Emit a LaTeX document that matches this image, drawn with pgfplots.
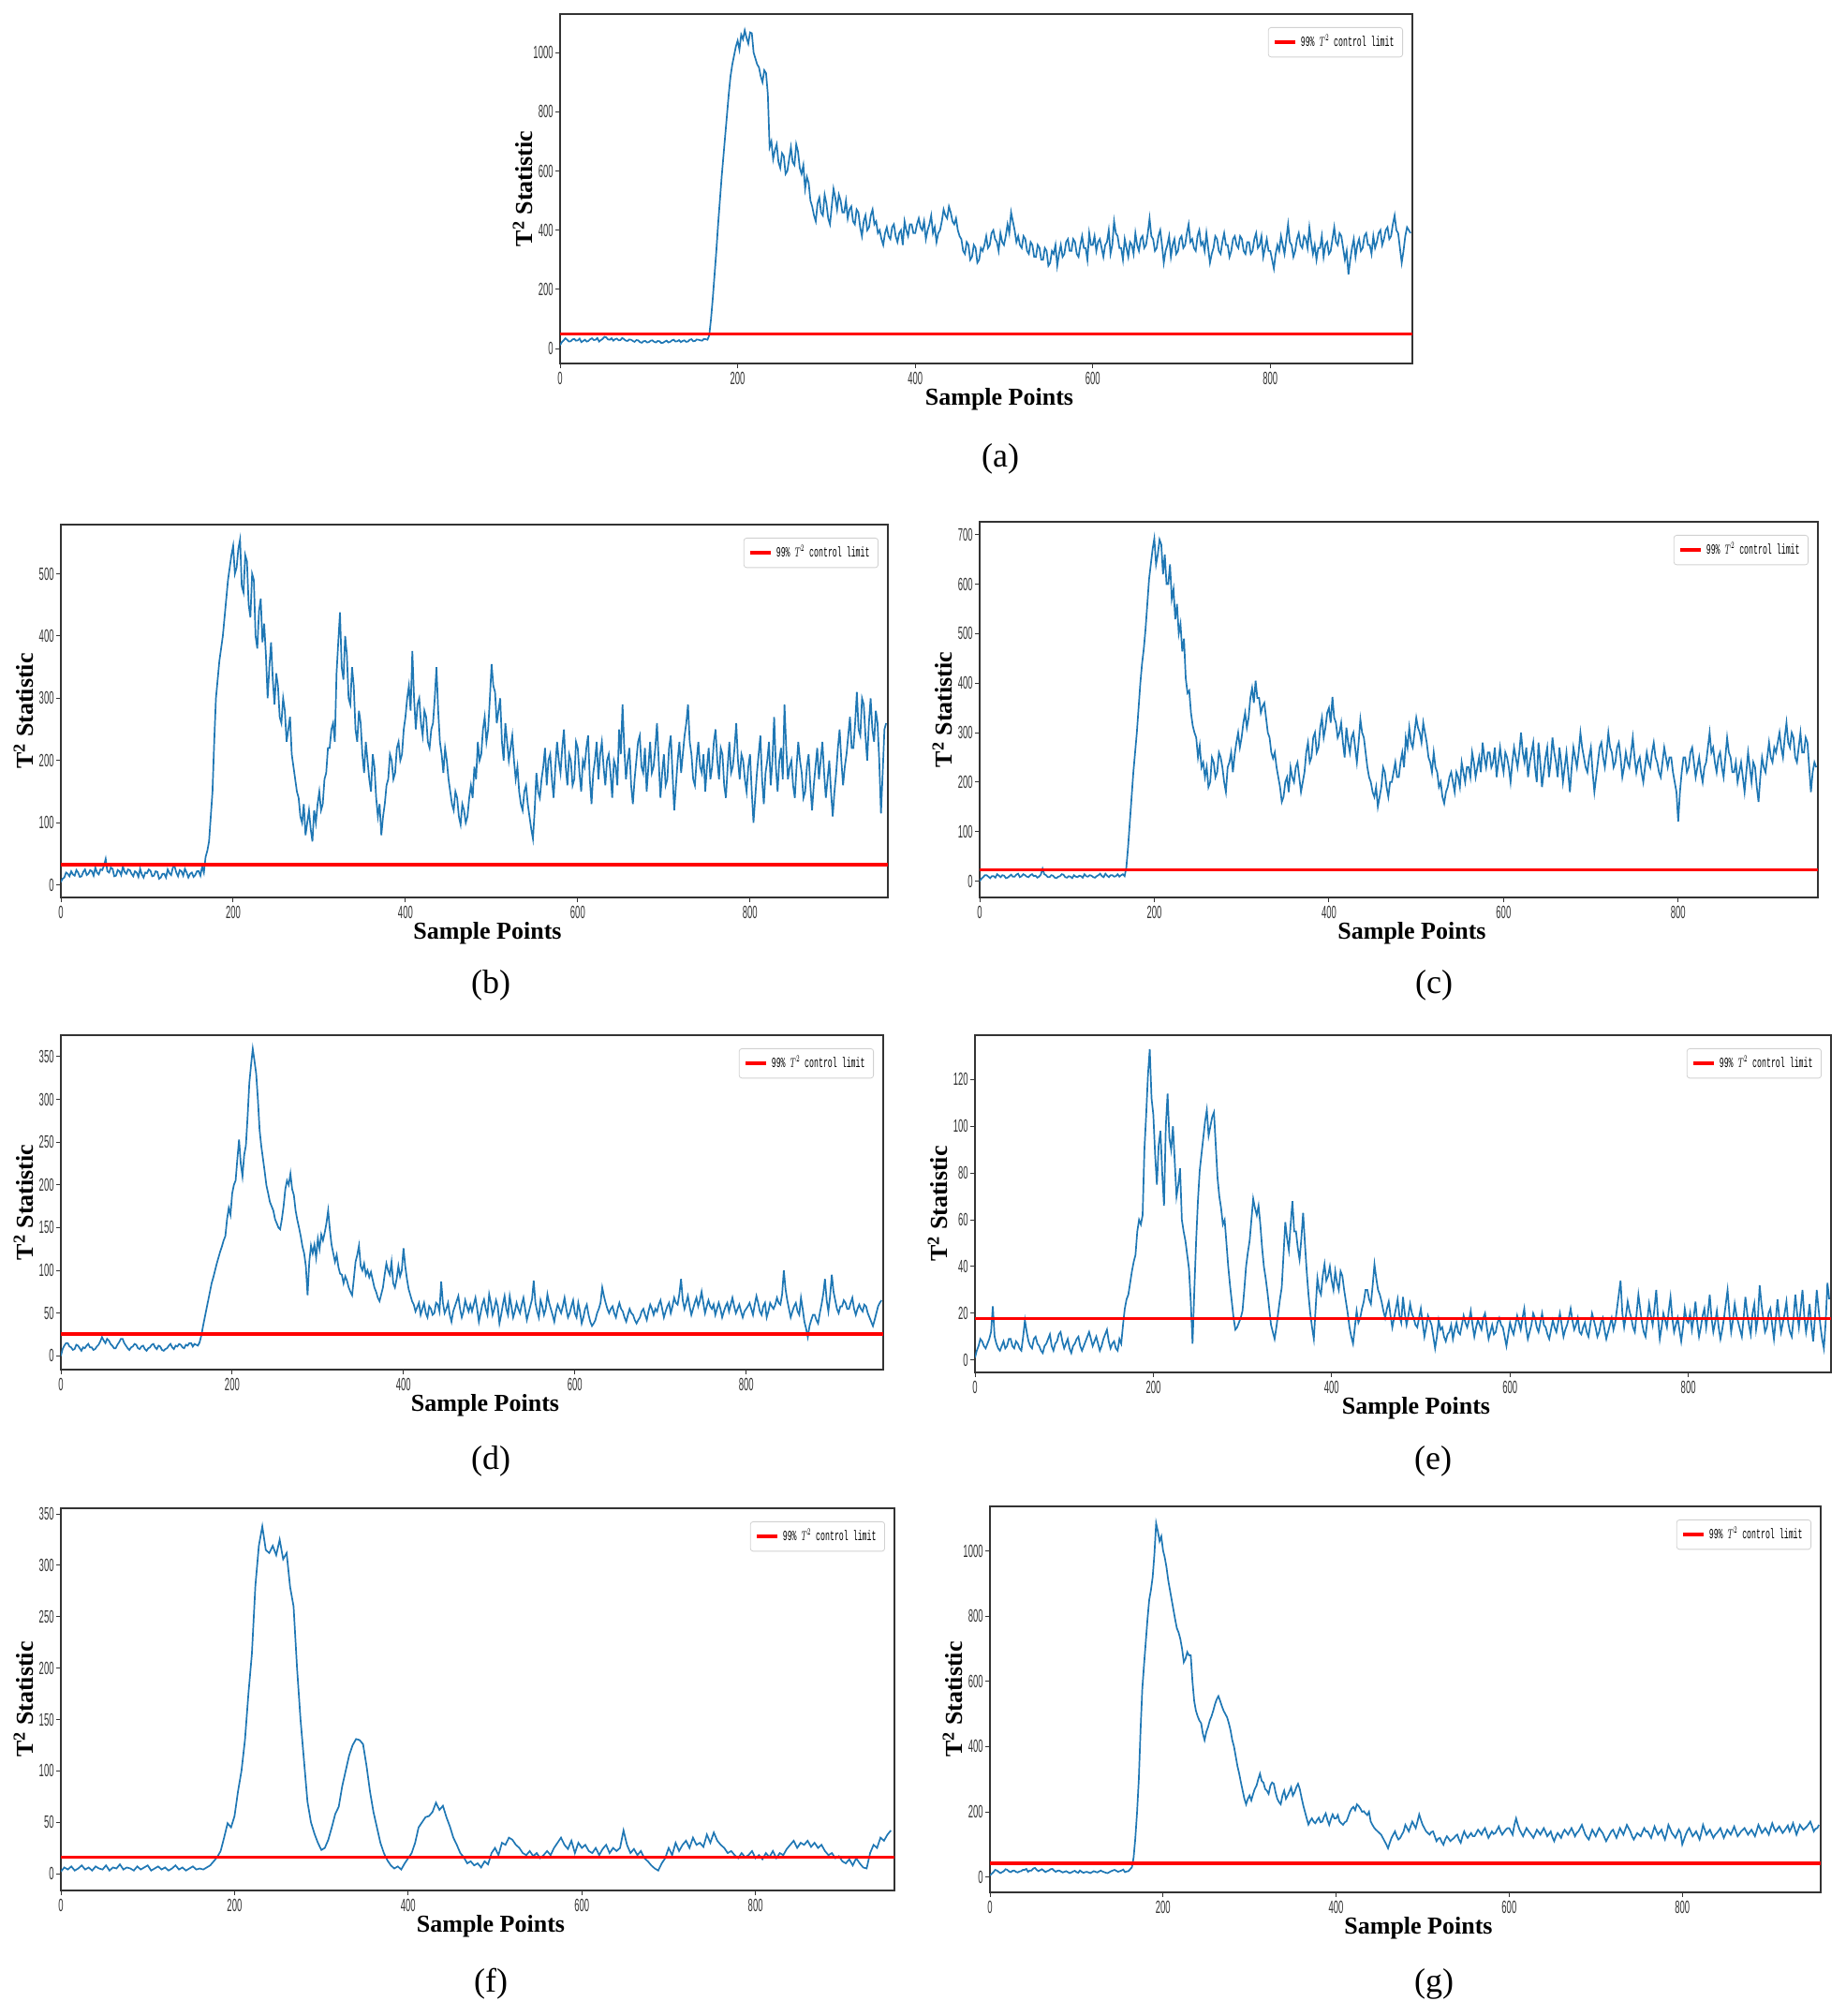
\documentclass[border=0pt]{standalone}
\usepackage{graphicx}
\usepackage{fontspec}
\setmainfont{Liberation Serif}
\newfontfamily\tickfont{Liberation Sans}
\newfontfamily\legfont{Liberation Mono}
\usepackage{pgfplots}
\pgfplotsset{compat=1.18}
\definecolor{tblue}{RGB}{31,119,180}
\newcommand{\leg}{\scalebox{0.55}[1]{99\% $T^2$ control limit}}
\pgfplotsset{
  tsq/.style={
    scale only axis, anchor=south west,
    xmin=0, xmax=960,
    xtick={0,200,400,600,800},
    axis line style={black!80, line width=0.8pt},
    tick align=outside, tick pos=left,
    major tick length=2.5pt,
    every tick/.style={black!80, line width=0.5pt},
    /pgf/number format/1000 sep={},
    /pgf/number format/assume math mode=true,
    scaled ticks=false,
    xticklabel={\tickfont\scalebox{0.5}[1]{\pgfmathprintnumber{\tick}}},
    yticklabel={\tickfont\scalebox{0.5}[1]{\pgfmathprintnumber{\tick}}},
    tick label style={font=\fontsize{9.5}{10}\selectfont, text=black!80},
    yticklabel style={inner xsep=1pt},
    xticklabel style={inner ysep=2pt},
    xlabel={Sample Points},
    ylabel={T\textsuperscript{2} Statistic},
    label style={font=\bfseries\fontsize{13}{14}\selectfont},
    xlabel style={at={(axis description cs:0.5,0)}, anchor=center, yshift=-19pt, xshift=7pt},
    ylabel style={at={(axis description cs:0,0.5)}, anchor=center, yshift=20pt},
    legend style={at={(axis description cs:1,1)}, anchor=north east, xshift=-5pt, yshift=-7pt,
      draw=black!18, line width=0.4pt, rounded corners=1.5pt, fill=white,
      inner xsep=2.5pt, inner ysep=2pt, font=\legfont\fontsize{7.5}{8}\selectfont,
      cells={anchor=west}},
  },
  blu/.style={tblue, line width=0.85pt, forget plot},
  lim/.style={red, line width=1.8pt, legend image code/.code={\draw[##1] (0pt,0pt) -- (11pt,0pt);}},
}
\tikzset{panlab/.style={font=\fontsize{18}{20}\selectfont}}
\begin{document}
\begin{tikzpicture}
\useasboundingbox (0,0) rectangle (985pt,1076pt);
% ---------------- (a)
\begin{axis}[tsq, at={(299pt,882pt)}, width=455pt, height=186.5pt, ymin=-50, ymax=1130, ytick={0,200,400,600,800,1000}]
\addplot[blu] table[x expr=\coordindex*2, y index=0, header=false, row sep=\\] {
12\\22\\28\\35\\30\\24\\25\\31\\33\\27\\
28\\34\\22\\26\\30\\24\\26\\32\\35\\29\\
30\\36\\24\\29\\33\\40\\38\\31\\30\\35\\
27\\32\\34\\28\\29\\36\\32\\27\\26\\31\\
30\\26\\23\\29\\28\\22\\20\\25\\26\\21\\
22\\27\\28\\23\\21\\26\\25\\19\\20\\24\\
27\\21\\23\\28\\30\\24\\25\\29\\22\\26\\
28\\23\\24\\30\\32\\25\\26\\31\\30\\28\\
27\\33\\32\\30\\45\\100\\170\\250\\330\\420\\
500\\580\\650\\720\\790\\860\\920\\960\\990\\1020\\
1040\\1010\\1060\\1045\\1075\\1050\\1030\\1068\\1065\\1000\\
980\\960\\950\\920\\900\\940\\930\\860\\680\\700\\
640\\670\\690\\630\\610\\660\\650\\590\\600\\640\\
680\\630\\620\\690\\665\\610\\590\\620\\540\\580\\
560\\500\\480\\450\\430\\490\\510\\460\\450\\520\\
490\\440\\420\\480\\540\\510\\470\\520\\500\\460\\
460\\500\\440\\470\\480\\430\\420\\470\\460\\410\\
380\\430\\450\\400\\410\\450\\470\\420\\430\\390\\
400\\370\\350\\390\\410\\380\\370\\410\\420\\380\\
360\\390\\400\\350\\430\\400\\380\\420\\420\\390\\
390\\420\\440\\410\\400\\430\\370\\400\\420\\450\\
390\\410\\360\\390\\400\\430\\470\\450\\440\\480\\
460\\430\\420\\440\\400\\380\\370\\330\\320\\360\\
350\\300\\310\\350\\340\\290\\300\\340\\330\\350\\
380\\340\\350\\390\\400\\370\\360\\330\\390\\360\\
350\\380\\420\\390\\460\\430\\400\\360\\380\\350\\
340\\380\\370\\330\\320\\360\\350\\310\\310\\350\\
340\\300\\300\\340\\330\\280\\290\\330\\320\\350\\
280\\320\\350\\310\\320\\360\\370\\330\\330\\370\\
360\\320\\310\\350\\380\\340\\340\\300\\390\\350\\
350\\380\\330\\360\\370\\340\\310\\350\\360\\400\\
320\\350\\430\\390\\380\\340\\340\\300\\370\\340\\
310\\360\\350\\320\\390\\350\\330\\370\\380\\340\\
350\\390\\440\\380\\370\\330\\340\\380\\400\\350\\
290\\330\\350\\380\\310\\350\\370\\320\\330\\370\\
380\\340\\350\\390\\420\\360\\370\\340\\330\\380\\
400\\350\\360\\330\\390\\340\\290\\320\\340\\380\\
370\\330\\320\\360\\390\\350\\350\\310\\330\\370\\
380\\350\\340\\380\\370\\330\\320\\360\\360\\320\\
330\\370\\390\\340\\350\\380\\310\\340\\370\\330\\
330\\300\\270\\320\\350\\330\\380\\350\\320\\370\\
420\\360\\350\\310\\330\\370\\390\\350\\340\\380\\
370\\340\\410\\360\\320\\350\\300\\340\\340\\380\\
310\\350\\360\\320\\330\\370\\410\\360\\350\\390\\
380\\340\\300\\330\\250\\300\\340\\370\\310\\350\\
370\\330\\340\\380\\390\\350\\350\\320\\380\\340\\
360\\390\\400\\350\\370\\400\\410\\370\\380\\420\\
450\\400\\390\\340\\290\\330\\380\\410\\400\\390\\
};
\addplot[lim] coordinates {(0,49) (960,49)};
\addlegendentry{\leg}
\end{axis}
\node[panlab] at (534pt,831pt) {(a)};
% ---------------- (b)
\begin{axis}[tsq, at={(32.5pt,597pt)}, width=441.5pt, height=199pt, ymin=-20, ymax=579, ytick={0,100,200,300,400,500}]
\addplot[blu] table[x expr=\coordindex*2, y index=0, header=false, row sep=\\] {
5\\10\\12\\20\\18\\14\\22\\17\\15\\24\\
20\\13\\14\\21\\25\\16\\18\\24\\22\\15\\
28\\20\\17\\25\\24\\31\\42\\22\\20\\28\\
26\\14\\15\\24\\22\\16\\30\\21\\18\\25\\
24\\18\\14\\22\\20\\13\\26\\17\\12\\20\\
19\\25\\23\\14\\15\\22\\21\\10\\12\\18\\
18\\12\\25\\19\\16\\28\\30\\20\\14\\24\\
22\\15\\26\\20\\12\\18\\20\\13\\16\\22\\
22\\15\\30\\20\\45\\55\\70\\110\\150\\230\\
300\\330\\360\\380\\400\\430\\460\\490\\510\\530\\
545\\500\\510\\540\\555\\480\\470\\530\\520\\450\\
430\\500\\490\\400\\380\\440\\460\\390\\420\\370\\
300\\350\\390\\330\\290\\340\\320\\270\\260\\300\\
280\\230\\250\\270\\210\\190\\170\\150\\140\\110\\
100\\130\\80\\100\\120\\90\\70\\120\\100\\130\\
150\\120\\130\\170\\180\\220\\220\\250\\260\\230\\
340\\390\\438\\350\\330\\400\\370\\300\\290\\350\\
320\\250\\230\\280\\260\\210\\180\\230\\200\\170\\
150\\210\\190\\140\\110\\130\\80\\110\\130\\160\\
170\\210\\200\\170\\180\\220\\230\\200\\210\\250\\
270\\300\\320\\280\\376\\300\\250\\290\\300\\260\\
240\\280\\270\\230\\220\\250\\260\\300\\350\\280\\
230\\210\\180\\220\\200\\170\\150\\130\\120\\150\\
140\\110\\97\\130\\120\\100\\110\\140\\160\\140\\
190\\170\\230\\200\\210\\250\\270\\230\\250\\300\\
355\\320\\310\\260\\280\\300\\230\\200\\260\\230\\
200\\220\\240\\200\\170\\190\\150\\130\\120\\150\\
160\\130\\110\\90\\74\\120\\180\\150\\140\\170\\
190\\220\\160\\200\\210\\170\\140\\190\\230\\200\\
180\\220\\250\\190\\160\\210\\200\\160\\170\\230\\
220\\180\\150\\200\\190\\220\\240\\170\\130\\180\\
200\\230\\170\\210\\230\\190\\160\\200\\210\\180\\
140\\200\\190\\160\\250\\210\\290\\220\\170\\200\\
220\\160\\130\\170\\200\\230\\240\\190\\180\\220\\
150\\190\\230\\180\\190\\220\\260\\200\\140\\180\\
210\\160\\170\\220\\240\\180\\120\\160\\200\\230\\
180\\210\\240\\260\\290\\230\\210\\170\\160\\200\\
230\\190\\180\\210\\150\\190\\220\\170\\190\\230\\
250\\200\\170\\220\\210\\160\\140\\190\\230\\180\\
190\\220\\260\\200\\170\\210\\200\\170\\150\\190\\
210\\150\\100\\140\\180\\210\\240\\170\\130\\180\\
200\\230\\160\\200\\270\\190\\150\\200\\220\\170\\
290\\220\\170\\190\\200\\160\\140\\190\\230\\200\\
180\\140\\150\\190\\210\\160\\120\\160\\190\\220\\
170\\200\\230\\180\\140\\170\\200\\150\\110\\150\\
180\\220\\250\\200\\160\\190\\210\\240\\270\\220\\
220\\260\\310\\250\\240\\300\\290\\240\\200\\260\\
300\\250\\230\\280\\260\\200\\115\\180\\250\\260\\
};
\addplot[lim] coordinates {(0,33) (960,33)};
\addlegendentry{\leg}
\end{axis}
\node[panlab] at (262pt,550pt) {(b)};
% ---------------- (c)
\begin{axis}[tsq, at={(523pt,597pt)}, width=447.5pt, height=200.5pt, ymin=-33, ymax=726, ytick={0,100,200,300,400,500,600,700}]
\addplot[blu] table[x expr=\coordindex*2, y index=0, header=false, row sep=\\] {
0\\5\\8\\12\\12\\9\\6\\10\\10\\7\\
14\\11\\8\\12\\11\\6\\7\\10\\13\\9\\
9\\13\\15\\8\\10\\14\\12\\9\\8\\12\\
14\\10\\11\\7\\9\\13\\25\\14\\12\\8\\
8\\12\\11\\7\\6\\9\\10\\14\\13\\8\\
7\\10\\9\\6\\12\\9\\8\\11\\10\\7\\
14\\10\\9\\12\\11\\8\\7\\10\\12\\15\\
10\\8\\15\\11\\8\\12\\12\\9\\10\\14\\
9\\12\\14\\10\\28\\70\\120\\170\\220\\260\\
300\\350\\400\\440\\470\\510\\560\\610\\640\\670\\
692\\640\\660\\690\\680\\620\\660\\600\\600\\640\\
570\\590\\529\\560\\500\\520\\464\\490\\410\\380\\
385\\340\\314\\300\\290\\250\\274\\230\\240\\210\\
230\\190\\200\\250\\240\\210\\220\\260\\250\\230\\
200\\180\\230\\240\\260\\220\\255\\280\\300\\270\\
290\\320\\340\\310\\330\\370\\390\\360\\405\\370\\
370\\340\\353\\360\\330\\300\\290\\260\\248\\260\\
230\\210\\190\\160\\170\\200\\210\\180\\230\\210\\
200\\230\\240\\210\\180\\200\\220\\260\\280\\240\\
250\\290\\300\\260\\270\\310\\330\\290\\310\\340\\
350\\320\\372\\330\\320\\290\\300\\320\\280\\250\\
310\\280\\260\\290\\300\\270\\240\\280\\327\\300\\
290\\260\\230\\210\\200\\180\\170\\190\\150\\170\\
190\\230\\220\\190\\170\\200\\200\\220\\240\\210\\
210\\240\\260\\230\\290\\270\\310\\280\\270\\300\\
330\\310\\300\\280\\320\\300\\280\\250\\240\\220\\
260\\230\\220\\190\\200\\170\\157\\180\\190\\210\\
220\\200\\180\\220\\210\\190\\240\\220\\200\\230\\
230\\210\\260\\240\\210\\230\\250\\220\\280\\250\\
230\\260\\260\\230\\240\\270\\210\\240\\270\\240\\
220\\260\\250\\230\\200\\240\\270\\250\\230\\260\\
300\\260\\240\\270\\210\\240\\260\\280\\230\\200\\
280\\240\\190\\220\\250\\270\\210\\240\\290\\260\\
240\\210\\270\\240\\200\\230\\260\\220\\180\\230\\
270\\250\\230\\260\\300\\270\\250\\230\\220\\250\\
270\\220\\180\\210\\240\\270\\280\\250\\230\\260\\
300\\270\\260\\230\\240\\270\\280\\250\\210\\230\\
260\\240\\230\\260\\290\\250\\220\\240\\250\\220\\
200\\230\\260\\240\\230\\260\\280\\250\\240\\220\\
210\\240\\270\\250\\230\\250\\250\\220\\200\\180\\
120\\180\\220\\250\\250\\220\\230\\260\\270\\240\\
210\\230\\250\\220\\200\\230\\240\\270\\300\\260\\
270\\240\\220\\250\\260\\230\\210\\250\\290\\260\\
250\\220\\220\\240\\200\\220\\240\\210\\180\\220\\
260\\230\\200\\240\\230\\190\\160\\210\\250\\230\\
220\\250\\280\\250\\240\\270\\260\\280\\300\\270\\
250\\290\\320\\280\\270\\300\\290\\250\\240\\270\\
300\\260\\260\\290\\280\\230\\180\\220\\240\\230\\
};
\addplot[lim] coordinates {(0,23) (960,23)};
\addlegendentry{\leg}
\end{axis}
\node[panlab] at (765.5pt,550pt) {(c)};
% ---------------- (d)
\begin{axis}[tsq, at={(32.5pt,345pt)}, width=439pt, height=178.5pt, ymin=-16, ymax=375, ytick={0,50,100,150,200,250,300,350}]
\addplot[blu] table[x expr=\coordindex*2, y index=0, header=false, row sep=\\] {
0\\8\\12\\15\\15\\11\\10\\7\\8\\13\\
12\\9\\6\\10\\9\\12\\14\\10\\10\\7\\
8\\11\\13\\17\\22\\18\\15\\20\\18\\14\\
12\\9\\9\\13\\16\\20\\20\\15\\12\\9\\
7\\10\\11\\14\\13\\9\\8\\11\\12\\8\\
6\\9\\10\\13\\14\\10\\8\\12\\11\\7\\
6\\8\\9\\12\\14\\10\\8\\12\\11\\14\\
13\\10\\9\\13\\12\\15\\15\\11\\14\\13\\
12\\16\\24\\35\\45\\55\\65\\75\\85\\92\\
100\\108\\115\\122\\128\\135\\140\\160\\173\\165\\
190\\200\\205\\230\\253\\225\\210\\235\\246\\280\\
319\\340\\359\\345\\330\\300\\264\\245\\230\\215\\
199\\190\\180\\175\\170\\160\\155\\150\\148\\160\\
175\\195\\205\\200\\213\\195\\188\\170\\159\\150\\
140\\128\\120\\105\\71\\110\\129\\120\\130\\115\\
137\\125\\142\\135\\144\\155\\170\\148\\130\\120\\
110\\118\\104\\96\\95\\85\\93\\88\\80\\75\\
71\\90\\110\\118\\129\\105\\100\\108\\95\\100\\
92\\98\\89\\80\\75\\68\\64\\72\\80\\95\\
108\\100\\95\\110\\85\\80\\90\\105\\93\\100\\
126\\105\\90\\78\\71\\64\\60\\52\\57\\62\\
48\\55\\62\\50\\45\\58\\55\\48\\50\\62\\
60\\52\\87\\62\\50\\55\\62\\48\\40\\52\\
58\\64\\70\\55\\45\\52\\65\\58\\52\\60\\
52\\60\\68\\55\\40\\50\\60\\66\\55\\48\\
72\\62\\48\\55\\65\\58\\38\\48\\60\\70\\
55\\48\\70\\58\\45\\52\\62\\55\\50\\60\\
68\\55\\42\\50\\58\\66\\88\\62\\52\\45\\
65\\58\\48\\55\\72\\62\\55\\48\\40\\52\\
60\\55\\50\\58\\68\\55\\45\\50\\58\\65\\
50\\45\\62\\52\\38\\45\\55\\60\\48\\40\\
35\\38\\42\\50\\55\\62\\80\\70\\62\\55\\
50\\55\\58\\50\\45\\55\\62\\55\\52\\45\\
40\\48\\55\\50\\48\\42\\38\\42\\45\\52\\
55\\48\\42\\52\\60\\55\\48\\55\\52\\60\\
65\\55\\45\\52\\58\\62\\50\\58\\68\\62\\
60\\72\\90\\65\\55\\62\\70\\58\\48\\55\\
62\\68\\58\\65\\75\\62\\50\\58\\65\\58\\
55\\60\\48\\55\\62\\55\\45\\52\\58\\62\\
52\\60\\68\\58\\50\\55\\60\\52\\45\\52\\
55\\58\\62\\55\\48\\60\\70\\62\\52\\48\\
58\\62\\45\\52\\62\\58\\55\\60\\68\\62\\
60\\72\\100\\78\\65\\55\\45\\52\\58\\62\\
52\\48\\68\\55\\40\\32\\22\\35\\42\\48\\
48\\42\\38\\50\\60\\72\\90\\65\\52\\70\\
95\\75\\65\\55\\50\\58\\58\\65\\62\\55\\
55\\62\\68\\55\\48\\55\\60\\55\\52\\60\\
58\\50\\45\\40\\35\\42\\50\\58\\62\\65\\
};
\addplot[lim] coordinates {(0,25.5) (960,25.5)};
\addlegendentry{\leg}
\end{axis}
\node[panlab] at (262pt,296pt) {(d)};
% ---------------- (e)
\begin{axis}[tsq, at={(520.5pt,343.5pt)}, width=457pt, height=180pt, ymin=-5.3, ymax=139, ytick={0,20,40,60,80,100,120}]
\addplot[blu] table[x expr=\coordindex*2, y index=0, header=false, row sep=\\] {
1\\4\\6\\9\\8\\6\\5\\7\\9\\12\\
23\\10\\7\\5\\4\\6\\8\\5\\6\\9\\
9\\6\\5\\8\\7\\5\\4\\10\\17\\12\\
8\\6\\5\\9\\10\\7\\6\\4\\3\\6\\
7\\9\\11\\6\\4\\7\\8\\11\\12\\8\\
5\\7\\9\\5\\3\\6\\7\\9\\10\\6\\
4\\6\\8\\10\\12\\9\\6\\8\\10\\7\\
4\\6\\9\\11\\13\\8\\5\\7\\8\\5\\
4\\9\\7\\15\\22\\26\\28\\33\\38\\42\\
45\\55\\60\\58\\62\\90\\105\\122\\133\\112\\
105\\88\\75\\92\\98\\80\\66\\100\\114\\95\\
90\\100\\85\\70\\75\\82\\60\\55\\51\\45\\
39\\25\\7\\30\\51\\68\\81\\88\\95\\102\\
107\\96\\100\\104\\106\\92\\78\\70\\65\\58\\
60\\50\\40\\32\\25\\18\\13\\14\\16\\18\\
21\\30\\40\\46\\51\\60\\69\\65\\62\\66\\
58\\48\\40\\35\\29\\22\\15\\12\\9\\14\\
20\\26\\31\\45\\59\\52\\47\\58\\68\\55\\
55\\48\\43\\52\\63\\50\\38\\28\\20\\14\\
9\\22\\35\\30\\28\\36\\41\\34\\36\\40\\
34\\30\\38\\33\\30\\38\\36\\30\\25\\20\\
14\\10\\7\\14\\21\\16\\18\\22\\25\\30\\
30\\26\\24\\32\\41\\35\\30\\28\\25\\21\\
18\\22\\25\\19\\14\\18\\22\\26\\19\\16\\
27\\20\\15\\19\\24\\20\\18\\15\\14\\18\\
22\\16\\10\\14\\19\\17\\15\\10\\5\\10\\
17\\13\\14\\10\\8\\11\\12\\15\\9\\13\\
16\\12\\11\\15\\19\\16\\14\\17\\21\\15\\
10\\14\\17\\15\\13\\18\\20\\14\\9\\12\\
15\\11\\12\\16\\18\\15\\14\\10\\6\\11\\
16\\13\\11\\15\\19\\16\\13\\18\\22\\14\\
9\\12\\15\\20\\18\\14\\12\\16\\20\\15\\
14\\11\\9\\13\\17\\14\\12\\16\\20\\15\\
10\\13\\15\\18\\22\\17\\13\\15\\18\\12\\
11\\14\\16\\12\\10\\15\\20\\17\\14\\10\\
12\\16\\18\\13\\9\\12\\15\\18\\13\\16\\
22\\28\\34\\20\\14\\19\\25\\21\\18\\14\\
12\\20\\28\\22\\16\\12\\10\\17\\24\\19\\
15\\22\\30\\18\\9\\14\\20\\17\\14\\21\\
27\\18\\12\\15\\18\\13\\8\\14\\22\\17\\
16\\20\\13\\18\\25\\16\\10\\14\\19\\22\\
14\\20\\28\\18\\12\\16\\21\\14\\9\\13\\
18\\24\\30\\20\\12\\17\\24\\19\\16\\13\\
10\\18\\27\\20\\15\\11\\20\\24\\13\\18\\
32\\24\\18\\12\\14\\20\\22\\15\\9\\17\\
26\\18\\12\\16\\20\\25\\16\\12\\10\\18\\
28\\20\\14\\22\\30\\19\\12\\17\\24\\15\\
8\\18\\30\\22\\15\\9\\5\\16\\33\\26\\
};
\addplot[lim] coordinates {(0,17.7) (960,17.7)};
\addlegendentry{\leg}
\end{axis}
\node[panlab] at (765pt,296pt) {(e)};
% ---------------- (f)
\begin{axis}[tsq, at={(32.5pt,67pt)}, width=445pt, height=204pt, ymin=-16.4, ymax=355.6, ytick={0,50,100,150,200,250,300,350}]
\addplot[blu] table[x expr=\coordindex*4, y index=0, header=false, row sep=\\] {
2\\6\\4\\7\\3\\5\\8\\4\\6\\3\\
7\\5\\4\\8\\3\\6\\5\\9\\4\\6\\
5\\3\\7\\4\\6\\8\\3\\5\\7\\4\\
6\\3\\5\\8\\4\\6\\3\\5\\7\\4\\
5\\4\\6\\8\\12\\16\\22\\35\\49\\45\\
56\\80\\100\\130\\175\\214\\280\\319\\338\\315\\
312\\319\\310\\325\\306\\312\\279\\260\\200\\150\\
110\\70\\50\\39\\30\\23\\25\\33\\45\\58\\
65\\85\\100\\115\\125\\131\\130\\126\\105\\80\\
60\\45\\30\\20\\13\\8\\5\\7\\4\\10\\
15\\20\\30\\45\\50\\55\\56\\60\\69\\62\\
66\\55\\46\\35\\28\\20\\16\\10\\12\\8\\
10\\6\\12\\9\\20\\25\\18\\30\\28\\35\\
33\\28\\25\\20\\18\\22\\17\\20\\15\\18\\
22\\18\\25\\30\\35\\28\\24\\32\\20\\30\\
25\\28\\22\\20\\25\\18\\24\\28\\20\\25\\
22\\25\\42\\28\\20\\24\\18\\22\\15\\12\\
8\\5\\3\\10\\15\\25\\18\\30\\22\\28\\
32\\25\\35\\28\\30\\26\\38\\30\\40\\32\\
28\\25\\20\\22\\18\\15\\20\\16\\18\\22\\
15\\18\\14\\20\\16\\22\\15\\20\\18\\24\\
28\\32\\25\\30\\28\\32\\26\\30\\25\\28\\
22\\18\\20\\15\\17\\12\\10\\14\\8\\15\\
10\\6\\5\\20\\28\\25\\35\\32\\38\\42\\
};
\addplot[lim] coordinates {(0,15.8) (960,15.8)};
\addlegendentry{\leg}
\end{axis}
\node[panlab] at (262pt,17pt) {(f)};
% ---------------- (g)
\begin{axis}[tsq, at={(528.5pt,66pt)}, width=443.5pt, height=206pt, ymin=-47, ymax=1137, ytick={0,200,400,600,800,1000}]
\addplot[blu] table[x expr=\coordindex*2, y index=0, header=false, row sep=\\] {
5\\10\\15\\22\\20\\16\\12\\15\\18\\24\\
22\\17\\15\\19\\20\\16\\14\\17\\18\\22\\
22\\25\\16\\20\\20\\26\\28\\22\\18\\21\\
24\\20\\15\\18\\20\\24\\25\\20\\16\\19\\
20\\17\\14\\16\\18\\15\\12\\14\\17\\19\\
15\\13\\20\\16\\13\\15\\16\\14\\12\\15\\
18\\16\\14\\17\\20\\17\\15\\13\\12\\15\\
18\\20\\22\\19\\16\\18\\20\\23\\15\\17\\
18\\24\\30\\60\\120\\200\\300\\450\\576\\650\\
720\\790\\850\\880\\920\\990\\1085\\1060\\1030\\1045\\
1002\\980\\950\\910\\880\\850\\820\\790\\763\\750\\
730\\700\\659\\670\\690\\680\\680\\600\\540\\510\\
493\\480\\472\\440\\420\\445\\460\\480\\493\\510\\
530\\545\\555\\540\\524\\510\\500\\490\\472\\450\\
420\\400\\370\\340\\317\\290\\265\\240\\223\\240\\
250\\235\\254\\270\\280\\300\\317\\295\\290\\270\\
265\\255\\280\\290\\286\\260\\240\\230\\223\\250\\
265\\240\\250\\262\\275\\250\\260\\275\\286\\270\\
244\\220\\200\\180\\161\\172\\180\\170\\165\\175\\
182\\168\\170\\185\\195\\175\\160\\178\\192\\180\\
180\\190\\170\\165\\160\\168\\171\\185\\200\\210\\
215\\205\\223\\218\\210\\200\\202\\195\\190\\200\\
170\\160\\151\\145\\140\\135\\130\\120\\110\\100\\
88\\105\\120\\130\\140\\125\\115\\120\\130\\140\\
160\\150\\140\\155\\170\\160\\150\\170\\192\\175\\
160\\150\\140\\135\\130\\138\\140\\125\\110\\118\\
120\\108\\99\\115\\125\\118\\110\\115\\119\\126\\
130\\115\\105\\125\\140\\128\\120\\128\\135\\125\\
125\\135\\145\\138\\130\\142\\150\\135\\120\\130\\
140\\132\\135\\145\\155\\140\\130\\138\\145\\150\\
150\\140\\130\\160\\180\\160\\145\\135\\125\\138\\
150\\142\\135\\128\\120\\132\\145\\138\\130\\140\\
150\\138\\125\\132\\140\\122\\110\\125\\135\\128\\
120\\135\\145\\138\\130\\140\\150\\138\\125\\135\\
140\\150\\160\\145\\130\\122\\115\\130\\145\\135\\
125\\138\\150\\142\\135\\122\\110\\120\\130\\140\\
145\\132\\120\\135\\150\\140\\130\\145\\160\\150\\
140\\125\\115\\125\\135\\130\\125\\138\\150\\140\\
140\\130\\120\\138\\155\\142\\130\\138\\145\\128\\
115\\135\\160\\148\\135\\128\\120\\132\\145\\135\\
100\\115\\130\\142\\150\\138\\125\\132\\140\\128\\
115\\135\\160\\145\\130\\138\\145\\132\\120\\130\\
135\\142\\150\\135\\120\\132\\145\\138\\130\\142\\
155\\140\\125\\132\\140\\145\\150\\140\\130\\138\\
145\\135\\125\\142\\160\\148\\135\\142\\150\\140\\
130\\148\\165\\150\\140\\148\\155\\145\\135\\142\\
150\\158\\140\\150\\165\\148\\130\\145\\160\\152\\
145\\150\\155\\162\\170\\155\\140\\148\\150\\160\\
};
\addplot[lim] coordinates {(0,41.5) (960,41.5)};
\addlegendentry{\leg}
\end{axis}
\node[panlab] at (765.5pt,17pt) {(g)};
\end{tikzpicture}
\end{document}
